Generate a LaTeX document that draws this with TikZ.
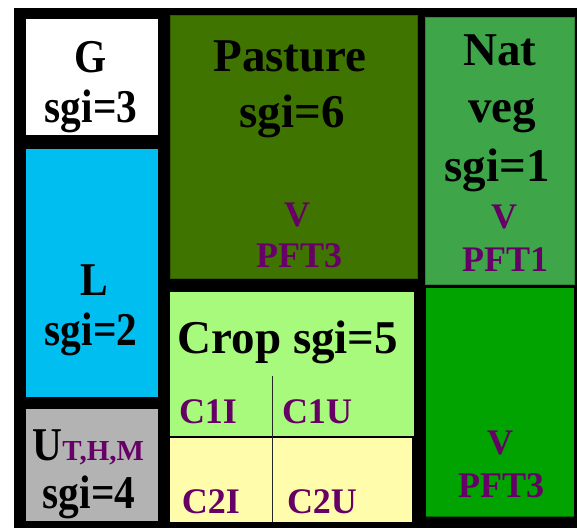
\documentclass[tikz,border=0pt]{standalone}
\usepackage{fontspec}
\usepackage{graphicx}
\setmainfont{Liberation Serif}
\definecolor{pasture}{RGB}{64,116,0}
\definecolor{natveg}{RGB}{62,166,72}
\definecolor{greenlow}{RGB}{0,163,0}
\definecolor{cropg}{RGB}{168,250,124}
\definecolor{cropy}{RGB}{255,252,172}
\definecolor{lcyan}{RGB}{0,190,240}
\definecolor{ugray}{RGB}{179,179,179}
\definecolor{purp}{RGB}{102,0,102}
\newcommand{\narrow}[1]{\scalebox{0.88}[1]{#1}}
\tikzset{
  big/.style={font=\fontsize{47}{47}\selectfont\bfseries, text=black, inner sep=0pt, anchor=base},
  small/.style={font=\fontsize{36}{36}\selectfont\bfseries, text=purp, inner sep=0pt, anchor=base},
  sub/.style={font=\fontsize{29}{29}\selectfont\bfseries, text=purp, inner sep=0pt, anchor=base west},
  divline/.style={draw=black!85, line width=1.5pt}
}
\begin{document}
\begin{tikzpicture}[x=1pt,y=-1pt]
\useasboundingbox[fill=white] (0,0) rectangle (577,528);
% black background
\fill[black] (14,8) rectangle (577,528);
% left column
\fill[white] (26,19) rectangle (158,135);
\fill[lcyan] (26,149) rectangle (158,397);
\fill[ugray] (26,409) rectangle (158,521);
% pasture
\filldraw[fill=pasture, draw=pasture!80!black, line width=0.8pt] (170,15) rectangle (417,278);
% nat veg
\filldraw[fill=natveg, draw=natveg!80!black, line width=0.8pt] (425,17) rectangle (574,284);
% lower right green
\fill[greenlow] (426,288) rectangle (574,516);
\draw[draw=black!60!green, line width=1pt] (426,516.5) -- (574,516.5);
% crop
\fill[cropg] (170,292) rectangle (414,436);
\fill[cropy] (170,438) rectangle (412,522);
\coordinate (vtop) at (272.5,376);
\coordinate (vbot) at (272.5,522);
\draw[divline] (vtop) -- (vbot);
% texts
\node[big] (g) at (91,72) {\narrow{G}};
\node[big] (g2) at (91,122) {\narrow{sgi=3}};
\node[big] (l) at (94,295) {\narrow{L}};
\node[big] (l2) at (91,345) {\narrow{sgi=2}};
\node[big, anchor=base west] (u) at (32,460) {\narrow{U}};
\node[sub] (u1) at (u.base east) {T,H,M};
\node[big] (u2) at (89,508) {\narrow{sgi=4}};
\node[big] (p1) at (290,71) {Pasture};
\node[big] (p2) at (292,127) {sgi=6};
\node[small] (pv) at (297,226) {V};
\node[small] (pp) at (299,267) {PFT3};
\node[big] (n1) at (500,65) {Nat};
\node[big] (n2) at (502,122) {veg};
\node[big] (n3) at (497,181) {sgi=1};
\node[small] (nv) at (504,228) {V};
\node[small] (np) at (505,271) {PFT1};
\node[small] (rv) at (500,454) {V};
\node[small] (rp) at (501,497) {PFT3};
\node[big] (c) at (288,353) {Crop sgi=5};
\node[small] (c1i) at (208,423) {C1I};
\node[small] (c1u) at (317,423) {C1U};
\node[small] (c2i) at (211,513) {C2I};
\node[small] (c2u) at (322,513) {C2U};
\end{tikzpicture}
\end{document}
